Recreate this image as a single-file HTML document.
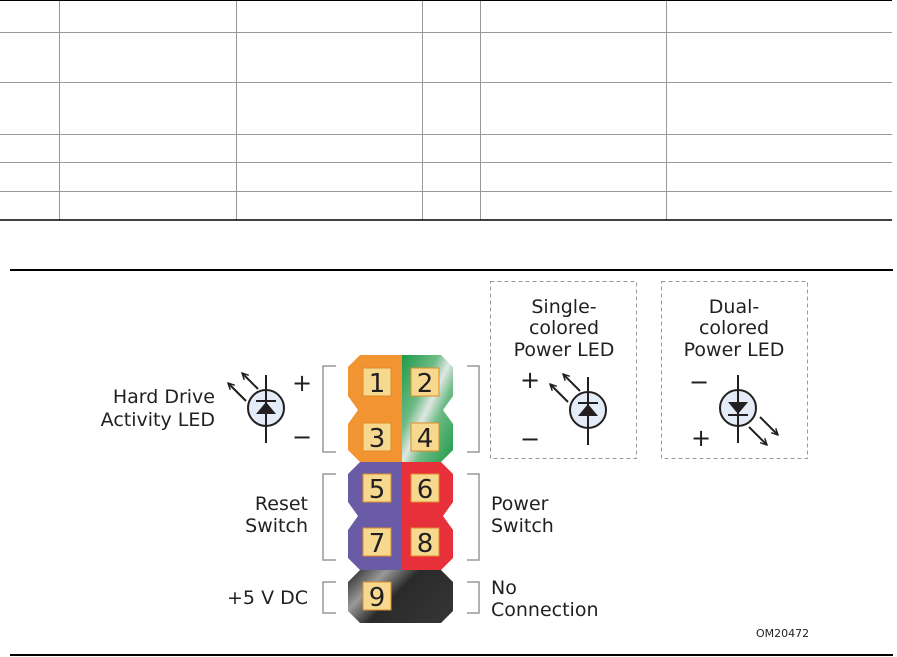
<!DOCTYPE html>
<html><head><style>
html,body{margin:0;padding:0;background:#fff;}
svg{display:block;}
text{font-family:"DejaVu Sans","Liberation Sans",sans-serif;fill:#231f20;}
</style></head><body>
<svg width="897" height="657" viewBox="0 0 897 657" xmlns="http://www.w3.org/2000/svg">
<defs>
<linearGradient id="gg" x1="0" y1="0" x2="1" y2="1">
<stop offset="0" stop-color="#1e9a48"/><stop offset="0.35" stop-color="#6dbb85"/><stop offset="0.5" stop-color="#dfe8e2"/><stop offset="0.65" stop-color="#6dbb85"/><stop offset="1" stop-color="#1e9a48"/>
</linearGradient>
<linearGradient id="bg" x1="0" y1="0" x2="1" y2="0.5">
<stop offset="0" stop-color="#222"/><stop offset="0.3" stop-color="#999"/><stop offset="0.55" stop-color="#2a2a2a"/><stop offset="1" stop-color="#333"/>
</linearGradient>
<marker id="ah" viewBox="0 0 10 10" refX="9" refY="5" markerWidth="4" markerHeight="4" orient="auto"><path d="M1,1 L9,5 L1,9" fill="none" stroke="#231f20" stroke-width="1.8"/></marker>
</defs>
<g stroke="#999" stroke-width="1">
<line x1="0" y1="32.5" x2="892" y2="32.5"/>
<line x1="0" y1="82.5" x2="892" y2="82.5"/>
<line x1="0" y1="134.5" x2="892" y2="134.5"/>
<line x1="0" y1="162.5" x2="892" y2="162.5"/>
<line x1="0" y1="191.5" x2="892" y2="191.5"/>
<line x1="59.5" y1="0" x2="59.5" y2="220"/>
<line x1="236.5" y1="0" x2="236.5" y2="220"/>
<line x1="422.5" y1="0" x2="422.5" y2="220"/>
<line x1="480.5" y1="0" x2="480.5" y2="220"/>
<line x1="666.5" y1="0" x2="666.5" y2="220"/>
</g>
<line x1="0" y1="0.5" x2="892" y2="0.5" stroke="#000" stroke-width="1"/>
<line x1="0" y1="220" x2="892" y2="220" stroke="#000" stroke-width="1.5"/>
<line x1="10" y1="270" x2="893" y2="270" stroke="#000" stroke-width="2"/>
<line x1="10" y1="655" x2="893" y2="655" stroke="#000" stroke-width="2"/>

<path d="M360,355 L402,355 L402,462 L360,462 L348,450 L348,424 L358,410 L348,396 L348,367 Z" fill="#f39433"/>
<path d="M402,355 L441,355 L453,367 L453,396 L443,410 L453,424 L453,450 L441,462 L402,462 Z" fill="url(#gg)"/>
<path d="M360,462 L402,462 L402,570 L360,570 L348,558 L348,530 L358,516 L348,502 L348,474 Z" fill="#6a5ba6"/>
<path d="M402,462 L441,462 L453,474 L453,502 L443,516 L453,530 L453,558 L441,570 L402,570 Z" fill="#e8303a"/>
<path d="M360,570 L441,570 L453,582 L453,611 L441,623 L360,623 L348,611 L348,582 Z" fill="url(#bg)"/>
<g fill="#f6d98f" stroke="#e08a2a" stroke-width="1">
<rect x="363" y="368" width="28" height="28"/><rect x="411" y="368" width="28" height="28"/>
<rect x="363" y="423" width="28" height="28"/><rect x="411" y="423" width="28" height="28"/>
<rect x="363" y="474" width="28" height="28"/><rect x="411" y="474" width="28" height="28"/>
<rect x="363" y="528" width="28" height="28"/><rect x="411" y="528" width="28" height="28"/>
<rect x="363" y="582" width="28" height="28"/>
</g>
<g font-size="26" text-anchor="middle">
<text x="377" y="392">1</text><text x="425" y="392">2</text>
<text x="377" y="447">3</text><text x="425" y="447">4</text>
<text x="377" y="498">5</text><text x="425" y="498">6</text>
<text x="377" y="552">7</text><text x="425" y="552">8</text>
<text x="377" y="606">9</text>
</g>
<g fill="none" stroke="#999" stroke-width="1.5">
<path d="M336,366 L323,366 L323,452 L336,452"/>
<path d="M467,366 L479,366 L479,452 L467,452"/>
<path d="M336,474 L323,474 L323,560 L336,560"/>
<path d="M467,474 L479,474 L479,560 L467,560"/>
<path d="M336,582 L323,582 L323,613 L336,613"/>
<path d="M467,582 L479,582 L479,613 L467,613"/>
</g>
<g font-size="19">
<text x="215" y="403" text-anchor="end">Hard Drive</text>
<text x="215" y="426" text-anchor="end">Activity LED</text>
<text x="308" y="510" text-anchor="end">Reset</text>
<text x="308" y="532" text-anchor="end">Switch</text>
<text x="308" y="604" text-anchor="end">+5 V DC</text>
<text x="491" y="510">Power</text>
<text x="491" y="532">Switch</text>
<text x="491" y="594">No</text>
<text x="491" y="616">Connection</text>
</g>
<g font-size="24">
<text x="292" y="391">+</text><text x="292" y="445">−</text>
<text x="520" y="388">+</text><text x="520" y="447">−</text>
<text x="689" y="390">−</text><text x="691" y="446">+</text>
</g>
<text x="756" y="637" font-size="11" font-family="Liberation Sans,sans-serif">OM20472</text>
<g fill="none" stroke="#999" stroke-width="1" stroke-dasharray="4,3">
<rect x="490.5" y="281.5" width="146" height="177"/>
<rect x="661.5" y="281.5" width="146" height="177"/>
</g>
<g font-size="19" text-anchor="middle">
<text x="564" y="313">Single-</text><text x="564" y="334">colored</text><text x="564" y="356">Power LED</text>
<text x="734" y="313">Dual-</text><text x="734" y="334">colored</text><text x="734" y="356">Power LED</text>
</g>
<g stroke="#231f20" stroke-width="2">
<circle cx="266" cy="408" r="18" fill="#e3ecf7"/>
<line x1="266" y1="375" x2="266" y2="443"/>
<line x1="256" y1="401" x2="276" y2="401"/>
<circle cx="588" cy="410" r="18" fill="#e3ecf7"/>
<line x1="588" y1="377" x2="588" y2="445"/>
<line x1="578" y1="403" x2="598" y2="403"/>
<circle cx="738" cy="408" r="18" fill="#e3ecf7"/>
<line x1="738" y1="375" x2="738" y2="443"/>
<line x1="728" y1="415" x2="748" y2="415"/>
</g>
<g fill="#231f20">
<path d="M256,414 L276,414 L266,402 Z"/>
<path d="M578,416 L598,416 L588,404 Z"/>
<path d="M728,402 L748,402 L738,414 Z"/>
</g>
<g stroke="#231f20" stroke-width="2" marker-end="url(#ah)">
<line x1="246" y1="401" x2="228" y2="383"/>
<line x1="258" y1="389" x2="242" y2="373"/>
<line x1="568" y1="402" x2="550" y2="384"/>
<line x1="580" y1="391" x2="563" y2="374"/>
<line x1="749" y1="427" x2="767" y2="445"/>
<line x1="760" y1="417" x2="778" y2="435"/>
</g>
</svg>
</body></html>
